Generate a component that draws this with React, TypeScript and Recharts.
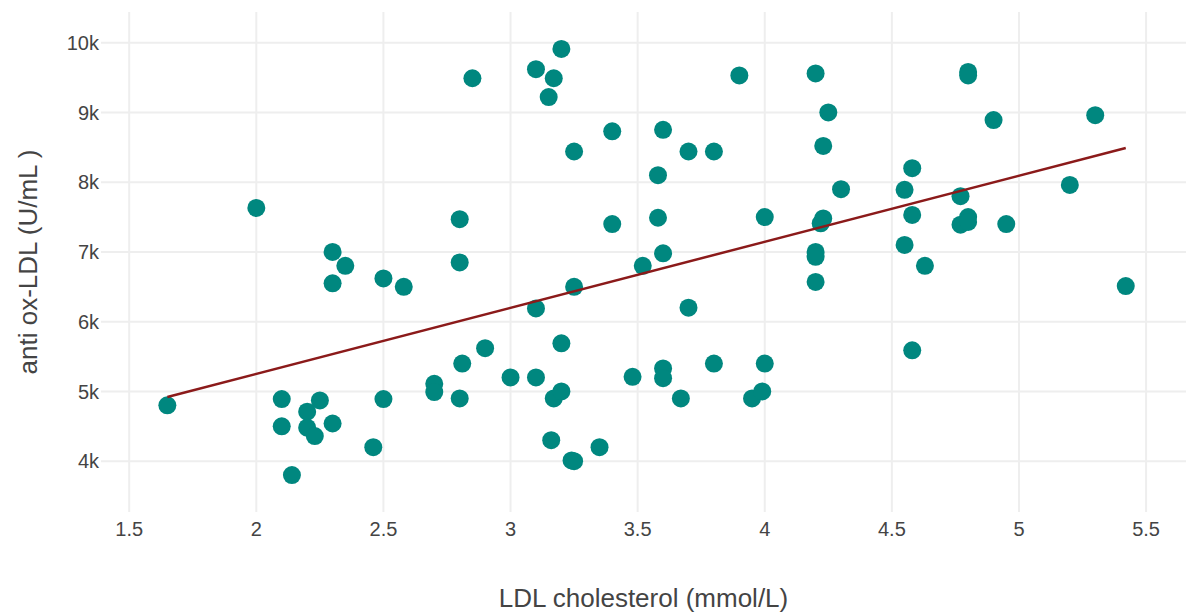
import {
  ScatterChart,
  Scatter,
  XAxis,
  YAxis,
  CartesianGrid,
} from "recharts";

// LDL cholesterol (mmol/L) per subject
const ldlValues = [
  1.65, 2.0, 2.1, 2.1, 2.14, 2.2, 2.2, 2.23, 2.25, 2.3, 2.3, 2.3, 2.35, 2.46,
  2.5, 2.5, 2.58, 2.7, 2.7, 2.8, 2.8, 2.81, 2.8, 2.85, 2.9, 3.0, 3.1, 3.1, 3.1,
  3.15, 3.17, 3.2, 3.16, 3.17, 3.2, 3.2, 3.24, 3.25, 3.25, 3.25, 3.35, 3.4, 3.4,
  3.48, 3.52, 3.58, 3.58, 3.6, 3.6, 3.6, 3.6, 3.67, 3.7, 3.7, 3.8, 3.8, 3.9,
  3.95, 3.99, 4.0, 4.0, 4.2, 4.2, 4.2, 4.2, 4.23, 4.25, 4.23, 4.22, 4.3, 4.55,
  4.55, 4.58, 4.58, 4.58, 4.63, 4.77, 4.77, 4.8, 4.8, 4.8, 4.8, 4.9, 4.95, 5.2,
  5.3, 5.42,
];

// anti ox-LDL (U/mL) per subject, same order
const oxLdlValues = [
  4800, 7630, 4890, 4500, 3800, 4710, 4480, 4360, 4870, 4540, 7000, 6550, 6800,
  4200, 6620, 4890, 6500, 5110, 4990, 7470, 6850, 5400, 4900, 9490, 5620, 5200,
  9620, 6190, 5200, 9220, 9490, 9910, 4300, 4900, 5690, 5000, 4010, 4000, 8440,
  6500, 4200, 8730, 7400, 5210, 6800, 8100, 7490, 8750, 6980, 5330, 5190, 4900,
  8440, 6200, 8440, 5400, 9530, 4900, 5000, 5400, 7500, 9560, 6570, 7000, 6930,
  8520, 9000, 7480, 7410, 7900, 7890, 7100, 8200, 7530, 5590, 6800, 7800, 7390,
  9580, 9530, 7500, 7430, 8890, 7400, 7960, 8960, 6510,
];

// fitted line end points
const trendX = [1.65, 5.42];
const trendY = [4920, 8490];

const xTicks = [1.5, 2, 2.5, 3, 3.5, 4, 4.5, 5, 5.5];
const yTicks = [4000, 5000, 6000, 7000, 8000, 9000, 10000];

const points = ldlValues.map((x, i) => ({ x, y: oxLdlValues[i] }));
const trend = trendX.map((x, i) => ({ x, y: trendY[i] }));

const FONT = "'Liberation Sans', Arial, sans-serif";
const TEAL = "#00877F";
const RED = "#8B1A1A";

const Dot = (props: any) => (
  <circle cx={props.cx} cy={props.cy} r={9} fill={TEAL} />
);

export default function App() {
  return (
    <div style={{ position: "absolute", left: 0, top: 0, background: "#fff" }}>
      <ScatterChart
        width={1186}
        height={612}
        margin={{ top: 12, right: 0, bottom: 0, left: 0 }}
      >
        <CartesianGrid
          stroke="#EEEEEE"
          strokeWidth={2}
          horizontalValues={yTicks}
          verticalValues={xTicks}
        />
        <XAxis
          type="number"
          dataKey="x"
          domain={[1.389, 5.657]}
          ticks={xTicks}
          allowDataOverflow
          axisLine={false}
          tickLine={false}
          tickSize={0}
          tickMargin={10}
          height={100}
          tick={{ fill: "#444", fontSize: 20, fontFamily: FONT }}
          label={{
            value: "LDL cholesterol (mmol/L)",
            position: "insideBottom",
            offset: 5,
            style: { fill: "#444", fontSize: 26, fontFamily: FONT },
          }}
        />
        <YAxis
          type="number"
          dataKey="y"
          domain={[3271, 10440]}
          ticks={yTicks}
          allowDataOverflow
          axisLine={false}
          tickLine={false}
          tickSize={0}
          tickMargin={2}
          width={101}
          tickFormatter={(v: number) => `${v / 1000}k`}
          tick={{ fill: "#444", fontSize: 20, fontFamily: FONT }}
          label={{
            value: "anti ox-LDL (U/mL )",
            angle: -90,
            position: "insideLeft",
            offset: 28,
            style: {
              fill: "#444",
              fontSize: 26,
              fontFamily: FONT,
              textAnchor: "middle",
            },
          }}
        />
        <Scatter data={points} shape={Dot} isAnimationActive={false} />
        <Scatter
          data={trend}
          line={{ stroke: RED, strokeWidth: 2.5 }}
          lineType="joint"
          shape={() => null}
          isAnimationActive={false}
        />
      </ScatterChart>
    </div>
  );
}
